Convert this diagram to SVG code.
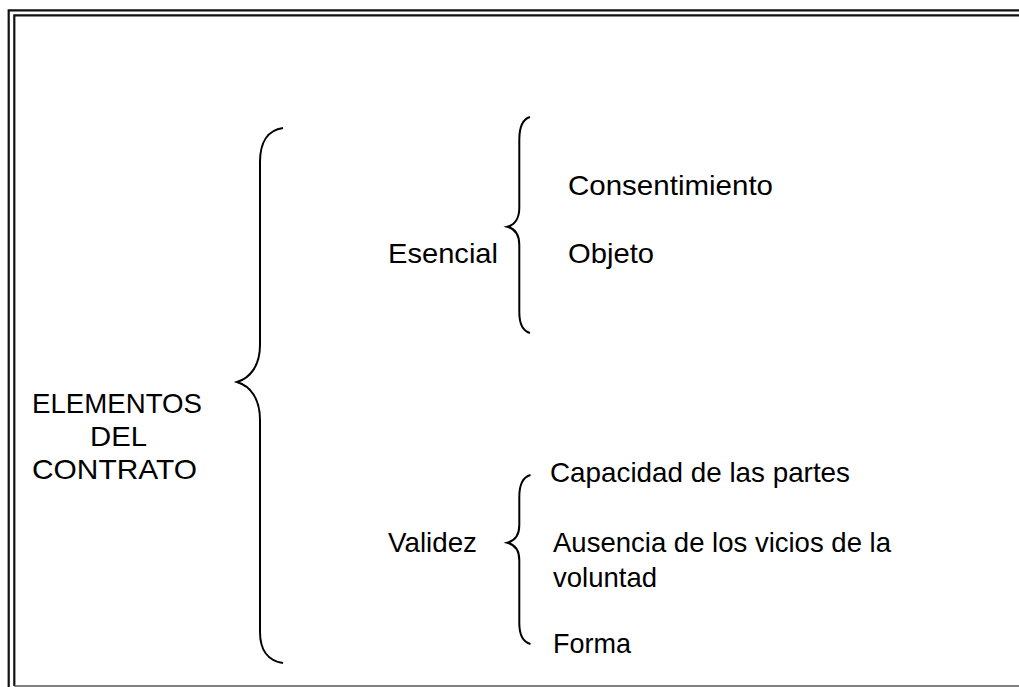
<svg xmlns="http://www.w3.org/2000/svg" width="1019" height="687" viewBox="0 0 1019 687">
<style>
.t{font-family:"Liberation Sans",Arial,sans-serif;font-size:28px;fill:#000}
.br{fill:none;stroke:#000;stroke-width:2}
.fr{stroke:#111;stroke-width:2.2;fill:none}
</style>
<rect width="1019" height="687" fill="#fff"/>
<g id="frame">
<path class="fr" d="M8.7,687 V10.3 H1019"/>
<path class="fr" d="M14.3,686 V15.3 H1019"/>
<path d="M14.3,686 H1019" stroke="#555" stroke-width="1.6"/>
</g>
<g id="connectors">
<path class="br" d="M283,128 C268,130 260,142 260,162 L260,345 C260,366 250,378 237,382 C250,386 260,398 260,420 L260,632 C260,650 268,661 283,663"/>
<path class="br" d="M530,117 C523,119 519.3,127 519.3,140 L519.3,208 C519.3,219 514,225 507.3,226.7 C514,228.5 519.3,234 519.3,245 L519.3,312 C519.3,325 523,331 530,333"/>
<path class="br" d="M530.5,475 C523,477 519.3,485 519.3,497 L519.3,525 C519.3,536 514,541 507.3,542.7 C514,544.5 519.3,549 519.3,560 L519.3,623 C519.3,636 523,642 530.5,644"/>
</g>
<g id="root">
<text class="t" x="32" y="413" textLength="170" lengthAdjust="spacingAndGlyphs">ELEMENTOS</text>
<text class="t" x="90" y="446" textLength="57" lengthAdjust="spacingAndGlyphs">DEL</text>
<text class="t" x="32" y="479" textLength="165" lengthAdjust="spacingAndGlyphs">CONTRATO</text>
</g>
<g id="esencial">
<text class="t" x="388" y="263" textLength="110" lengthAdjust="spacingAndGlyphs">Esencial</text>
</g>
<g id="consentimiento">
<text class="t" x="568" y="195" textLength="205" lengthAdjust="spacingAndGlyphs">Consentimiento</text>
</g>
<g id="objeto">
<text class="t" x="568" y="263" textLength="86" lengthAdjust="spacingAndGlyphs">Objeto</text>
</g>
<g id="validez">
<text class="t" x="388" y="551.5" textLength="89" lengthAdjust="spacingAndGlyphs">Validez</text>
</g>
<g id="capacidad">
<text class="t" x="550" y="481.5" textLength="300" lengthAdjust="spacingAndGlyphs">Capacidad de las partes</text>
</g>
<g id="ausencia">
<text class="t" x="553" y="551.5" textLength="338" lengthAdjust="spacingAndGlyphs">Ausencia de los vicios de la</text>
<text class="t" x="553" y="586.5" textLength="104" lengthAdjust="spacingAndGlyphs">voluntad</text>
</g>
<g id="forma">
<text class="t" x="553" y="653" textLength="78" lengthAdjust="spacingAndGlyphs">Forma</text>
</g>
</svg>
